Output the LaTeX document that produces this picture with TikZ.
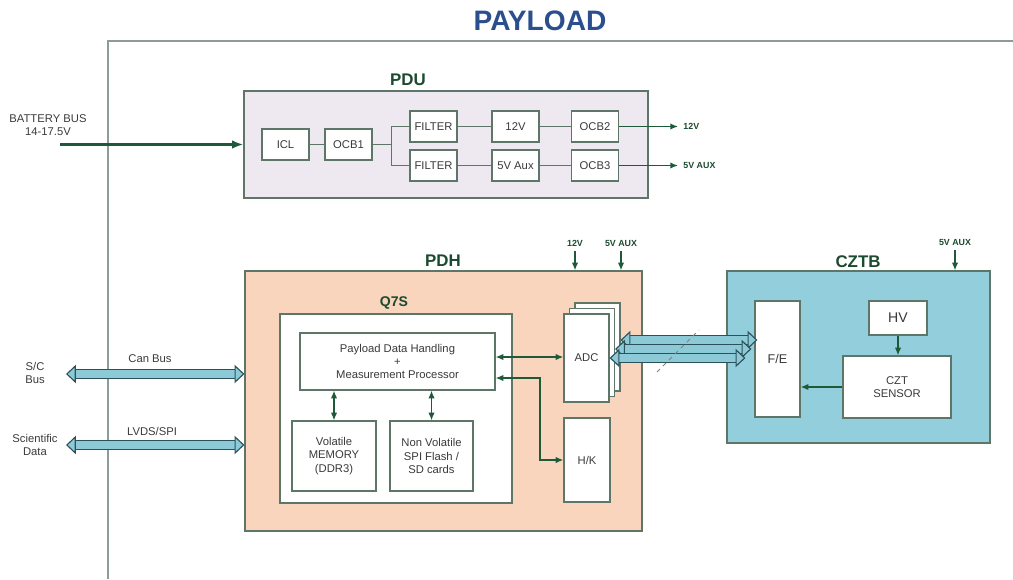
\documentclass[tikz,border=0pt]{standalone}
\usepackage{fontspec}
\setmainfont{Liberation Sans}
\usetikzlibrary{arrows.meta, calc}
\definecolor{titleblue}{HTML}{2A4F8C}
\definecolor{darkgreen}{HTML}{1B4A2E}
\definecolor{wirecol}{HTML}{1E5A3A}
\definecolor{edge}{HTML}{5E7668}
\definecolor{framecol}{HTML}{8C9C98}
\definecolor{txt}{HTML}{3A3A3A}
\definecolor{pdufill}{HTML}{EEE8F1}
\definecolor{pdhfill}{HTML}{F8D5BC}
\definecolor{cztbfill}{HTML}{92CEDC}
\definecolor{sky}{HTML}{8CCAD8}
\definecolor{busedge}{HTML}{2E5159}
\newcommand{\px}{0.025cm}
\begin{document}
\begin{tikzpicture}[x=\px, y=-\px]
    \tikzstyle{unit}=[rectangle, draw=edge, line width=0.8pt, inner sep=0pt]
    \tikzstyle{block}=[unit, fill=white, align=center, text=txt,
        font=\fontsize{8}{9.5}\selectfont]
    \tikzstyle{heading}=[font=\fontsize{12}{14}\selectfont\bfseries, text=darkgreen]
    \tikzstyle{tag}=[font=\fontsize{6.3}{7}\selectfont\bfseries, text=darkgreen]
    \tikzstyle{side}=[align=center, text=txt, font=\fontsize{8}{9.5}\selectfont]
    \tikzstyle{wire}=[draw=wirecol, line width=1pt]
    \tikzstyle{connector}=[wire, -{Latex[length=5.5pt, width=4.5pt]}]
    \tikzstyle{biconnector}=[wire, {Latex[length=5.5pt, width=4.5pt]}-{Latex[length=5.5pt, width=4.5pt]}]
    \tikzstyle{bus}=[draw=busedge, line width=0.8pt, double=sky, double distance=5pt,
        {Triangle[width=13pt, length=7pt, fill=sky]}-{Triangle[width=13pt, length=7pt, fill=sky]}]
    \useasboundingbox (0,0) rectangle (1013,579);

    \node[font=\fontsize{20}{24}\selectfont\bfseries, text=titleblue] (title) at (540,21) {PAYLOAD};
    \draw[draw=framecol, line width=1pt] (108,579) -- (108,41) -- (1013,41);

    % PDU
    \node[unit, fill=pdufill, minimum width=404*\px, minimum height=107*\px] (pdu) at (446,144.5) {};
    \node[heading] (pdu-label) at (408,80) {PDU};
    \foreach \name/\x/\y/\txt in {icl/285.5/144.5/ICL, ocb1/348.5/144.5/OCB1,
            filA/433.5/126.5/FILTER, filB/433.5/165.5/FILTER,
            v12/515.5/126.5/12V, v5/515.5/165.5/5V Aux,
            ocb2/595/126.5/OCB2, ocb3/595/165.5/OCB3}
        \node[block, minimum width=47*\px, minimum height=31*\px] (\name) at (\x,\y) {\txt};

    \draw[wire, draw=edge] (icl) -- (ocb1);
    \draw[wire, draw=edge] (ocb1.east) -- ++(19,0) coordinate (split);
    \draw[wire, draw=edge] (filA.west) -| (split) |- (filB.west);
    \draw[wire, draw=edge] (filA) -- (v12) -- (ocb2);
    \draw[wire, draw=edge] (filB) -- (v5) -- (ocb3);
    \draw[connector] (ocb2.east) -- ++(59,0) node[tag, right] (out12) {12V};
    \draw[connector] (ocb3.east) -- ++(59,0) node[tag, right] (out5) {5V AUX};

    \node[side] (batt) at (48,125) {BATTERY BUS\\14-17.5V};
    \coordinate (batt-in) at (60,144.5);
    \draw[wire, line width=1.6pt, -{Latex[length=8pt, width=6pt]}] (batt-in) -- (pdu.west);

    % PDH
    \node[unit, fill=pdhfill, minimum width=397*\px, minimum height=260*\px] (pdh) at (443.5,401) {};
    \node[heading] (pdh-label) at (443,261) {PDH};
    \foreach \x/\txt in {575/12V, 621/5V AUX} {
        \node[tag] (pw-\x) at (\x,243) {\txt};
        \draw[connector] (pw-\x) -- (pdh.north -| pw-\x);
    }

    \node[unit, fill=white, minimum width=232*\px, minimum height=189*\px] (q7s) at (396,408.5) {};
    \node[font=\fontsize{10}{12}\selectfont\bfseries, text=darkgreen] (q7s-label) at (394,303) {Q7S};
    \node[block, minimum width=195*\px, minimum height=57*\px] (proc) at (397.5,361.5)
        {Payload Data Handling\\+\\Measurement Processor};
    \node[block, minimum width=84*\px, minimum height=70*\px] (vmem) at (334,456)
        {Volatile\\MEMORY\\(DDR3)};
    \node[block, minimum width=83*\px, minimum height=70*\px] (nvmem) at (431.5,456)
        {Non Volatile\\SPI Flash /\\SD cards};
    \draw[biconnector] (vmem.north) -- (vmem.north |- proc.south);
    \draw[biconnector] (nvmem.north) -- (nvmem.north |- proc.south);

    \foreach \name/\d in {adcA/11, adcB/5.5}
        \node[block, minimum width=45*\px, minimum height=88*\px] (\name) at (586.5+\d,358-\d) {};
    \node[block, minimum width=45*\px, minimum height=88*\px] (adcC) at (586.5,358) {ADC};
    \node[block, minimum width=46*\px, minimum height=84*\px] (hk) at (587,460) {H/K};

    \draw[biconnector] (proc.east |- 0,357) -- (adcC.west |- 0,357);
    \draw[biconnector] (proc.east |- 0,378) -- (540,378) |- (hk.west);

    % CZTB
    \node[unit, fill=cztbfill, minimum width=263*\px, minimum height=172*\px] (cztb) at (858.5,357) {};
    \node[heading] (cztb-label) at (858,262) {CZTB};
    \node[tag] (pw-cztb) at (955,242) {5V AUX};
    \draw[connector] (pw-cztb) -- (cztb.north -| pw-cztb);
    \node[block, minimum width=45*\px, minimum height=116*\px, font=\fontsize{9}{10}\selectfont] (fe) at (777.5,359) {F/E};
    \node[block, minimum width=58*\px, minimum height=34*\px, font=\fontsize{10}{12}\selectfont] (hv) at (898,318) {HV};
    \node[block, minimum width=108*\px, minimum height=62*\px] (czt) at (897,387) {CZT\\SENSOR};
    \draw[connector] (hv.south) -- (hv.south |- czt.north);
    \draw[connector] (czt.west) -- (fe.east |- czt.west);

    % data links
    \foreach \name/\y/\dx in {adcA/340/3, adcB/349/-3, adcC/358/-9}
        \draw[bus] (\name.east |- 0,\y) -- ($(fe.west |- 0,\y)+(\dx,0)$);
    \draw[dashed, draw=gray, line width=0.6pt] (657,372) -- (699,330);

    \node[side] (sc) at (35,373) {S/C\\Bus};
    \coordinate (sc-end) at (66,374);
    \draw[bus] (sc-end) -- (pdh.west |- sc-end);
    \node[side] (can) at (150,359) {Can Bus};

    \node[side] (sci) at (35,445) {Scientific\\Data};
    \coordinate (sci-end) at (66,445);
    \draw[bus] (sci-end) -- (pdh.west |- sci-end);
    \node[side] (lvds) at (152,431) {LVDS/SPI};
\end{tikzpicture}
\end{document}
